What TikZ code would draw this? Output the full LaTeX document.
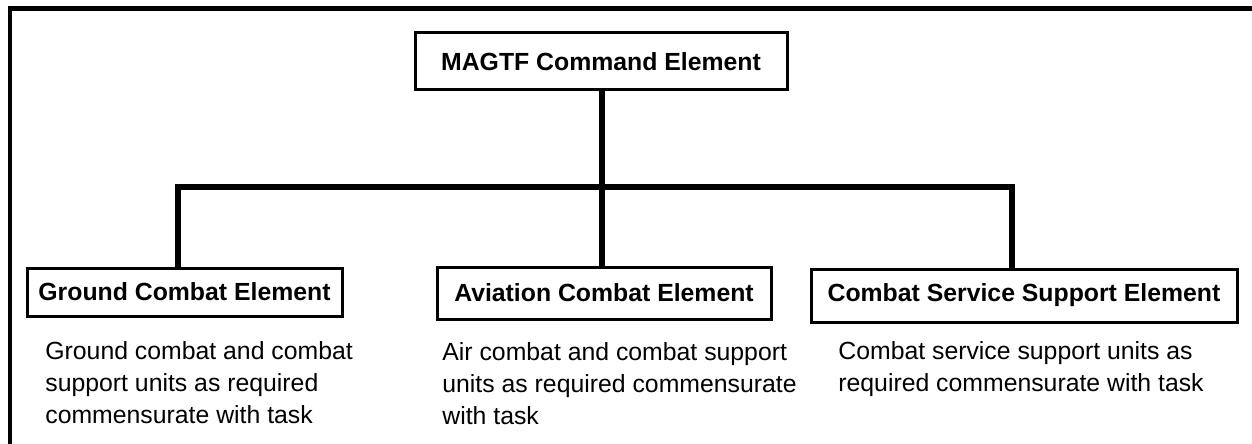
\documentclass[tikz,border=0pt]{standalone}
\usepackage{fontspec}
\setmainfont{Liberation Sans}
\begin{document}
\begin{tikzpicture}[x=0.5pt,y=-0.5pt,
  box/.style={draw=black,line width=1.5pt,inner sep=0pt,font=\fontsize{12.4}{15}\selectfont\bfseries},
  conn/.style={draw=black,line width=3pt},
  desc/.style={anchor=north west,align=left,inner sep=0pt,font=\fontsize{12.4}{16}\selectfont},
  frame/.style={draw=black,line width=2.25pt}]
\useasboundingbox (0,0) rectangle (1252,444);
\begin{scope}
\clip (0,0) rectangle (1252,444);
\draw[frame] (10,8.5) rectangle (1270,470);
\end{scope}
% boxes
\node[box,minimum width=186pt,minimum height=28.5pt] (mce) at (601,61.5) {MAGTF Command Element};
\node[box,minimum width=157.5pt,minimum height=24pt] (gce) at (184.5,292) {Ground Combat Element};
\node[box,minimum width=167pt,minimum height=26pt] (ace) at (604,293) {Aviation Combat Element};
\node[box,minimum width=213pt,minimum height=26.5pt] (csse) at (1024,295.5) {Combat Service Support Element};
% bus
\coordinate (busL) at (178,187);
\coordinate (busM) at (602,187);
\coordinate (busR) at (1012,187);
\draw[conn] (mce.south -| busM) -- (busM);
\draw[conn] (gce.north -| busL) -- (busL) -- (busR) -- (csse.north -| busR);
\draw[conn] (busM) -- (ace.north -| busM);
% descriptions
\node[desc] (gtxt) at (45,341) {Ground combat and combat\\support units as required\\commensurate with task};
\node[desc] (atxt) at (442,342) {Air combat and combat support\\units as required commensurate\\with task};
\node[desc] (ctxt) at (838,341) {Combat service support units as\\required commensurate with task};
\end{tikzpicture}
\end{document}
